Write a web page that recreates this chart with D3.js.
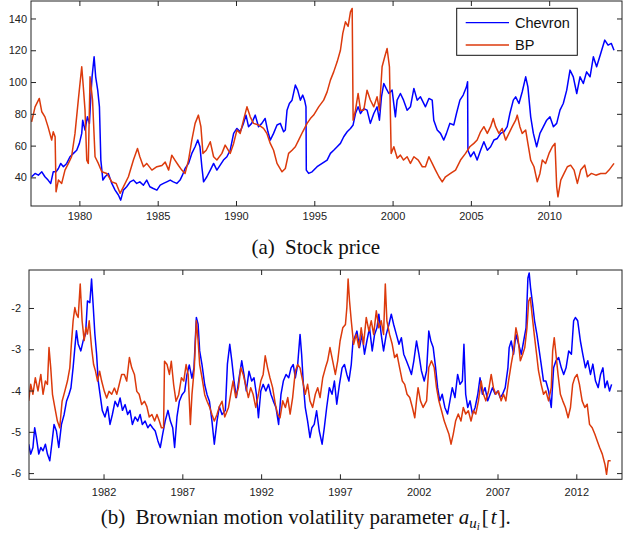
<!DOCTYPE html>
<html><head><meta charset="utf-8">
<script src="https://cdn.jsdelivr.net/npm/d3@7"></script>
<style>body{margin:0;background:#fff}svg{display:block}</style>
</head><body>
<script>
// ---------- data (year, value) ----------
const chevronPrice = [[1976.95,40.4],[1977.17,42.5],[1977.38,41.4],[1977.6,43.5],[1977.8,40.4],[1978.0,38.3],[1978.17,36.2],[1978.33,43.5],[1978.51,43.5],[1978.66,45.6],[1978.81,48.8],[1978.98,46.7],[1979.19,48.8],[1979.4,53],[1979.62,55.1],[1979.83,57.1],[1980.0,61.4],[1980.15,67.7],[1980.21,76],[1980.36,69.8],[1980.51,78.1],[1980.64,74],[1980.73,90.7],[1980.81,103.3],[1980.94,115.9],[1981.04,103.3],[1981.17,94.9],[1981.28,84.4],[1981.37,50.9],[1981.5,38.3],[1981.64,40.4],[1981.85,42.5],[1982.07,36.2],[1982.28,32],[1982.49,28.9],[1982.64,25.7],[1982.81,32],[1983.02,34.1],[1983.24,37.2],[1983.45,38.3],[1983.66,36.2],[1983.86,37.2],[1984.09,35.1],[1984.3,38.3],[1984.5,34.1],[1984.72,33],[1984.95,32],[1985.16,35.1],[1985.37,36.2],[1985.58,37.2],[1985.8,38.3],[1986.0,37.2],[1986.22,36.2],[1986.43,38.3],[1986.58,41.4],[1986.75,45.6],[1986.97,48.8],[1987.18,55.1],[1987.39,59.3],[1987.56,63.5],[1987.7,59.3],[1987.82,46.7],[1987.93,37.2],[1988.14,40.4],[1988.36,44.6],[1988.57,48.8],[1988.78,44.6],[1988.99,47.7],[1989.2,50.9],[1989.42,53],[1989.63,57.1],[1989.85,67.7],[1990.06,70.8],[1990.27,68.7],[1990.48,74],[1990.64,79.2],[1990.8,71.9],[1991.0,74],[1991.23,79.2],[1991.44,71.9],[1991.65,74],[1991.86,77.1],[1992.04,68.7],[1992.19,63.5],[1992.4,67.7],[1992.62,73],[1992.83,74],[1993.04,68.7],[1993.15,69.8],[1993.26,82.3],[1993.41,86.5],[1993.58,88.6],[1993.79,98.1],[1993.94,94.9],[1994.11,88.6],[1994.26,91.8],[1994.38,88.6],[1994.47,84.4],[1994.49,44.6],[1994.64,42.5],[1994.86,43.5],[1995.18,46.7],[1995.5,48.8],[1995.82,50.9],[1996.03,55.1],[1996.24,57.1],[1996.46,59.3],[1996.67,61.4],[1996.88,65.6],[1997.1,68.7],[1997.31,70.8],[1997.48,73],[1997.63,80.2],[1997.8,84.4],[1997.95,80.2],[1998.16,83.3],[1998.37,82.3],[1998.58,74],[1998.8,80.2],[1999.01,84.4],[1999.16,76],[1999.29,90.7],[1999.44,99.1],[1999.59,96],[1999.76,92.8],[1999.97,94.9],[2000.18,78.1],[2000.29,88.6],[2000.5,92.8],[2000.7,88.6],[2000.93,82.3],[2001.14,84.4],[2001.36,96],[2001.57,88.6],[2001.78,90.7],[2002.1,84.4],[2002.32,89.7],[2002.53,88.6],[2002.63,76],[2002.85,69.8],[2003.06,67.7],[2003.27,63.5],[2003.44,67.7],[2003.66,74],[2003.91,73],[2004.08,80.2],[2004.3,88.6],[2004.51,91.8],[2004.72,97],[2004.79,100.2],[2004.81,57.1],[2004.98,53],[2005.19,56.1],[2005.4,50.9],[2005.62,57.1],[2005.83,62.4],[2006.05,57.1],[2006.26,59.3],[2006.47,63.5],[2006.69,64.5],[2006.9,67.7],[2007.11,68.7],[2007.32,71.9],[2007.49,80.2],[2007.71,88.6],[2007.86,90.7],[2008.07,86.5],[2008.28,93.9],[2008.5,103.3],[2008.64,97],[2008.82,78.1],[2008.99,67.7],[2009.2,59.3],[2009.41,67.7],[2009.63,71.9],[2009.84,76],[2010.05,78.1],[2010.27,71.9],[2010.48,74],[2010.69,82.3],[2010.9,86.5],[2011.12,94.9],[2011.33,107.5],[2011.54,103.3],[2011.76,92.8],[2011.97,103.3],[2012.18,99.1],[2012.39,106.4],[2012.61,103.3],[2012.82,115.9],[2013.03,109.6],[2013.29,118],[2013.55,126.4],[2013.76,123.2],[2013.97,124.3],[2014.14,120]];

const bpPrice = [[1976.95,75],[1977.17,84.4],[1977.44,89.7],[1977.6,81.3],[1977.8,78.1],[1978.0,71.8],[1978.23,63.5],[1978.33,68.7],[1978.45,65.5],[1978.51,30.9],[1978.66,38.3],[1978.87,36.2],[1979.08,44.6],[1979.3,48.8],[1979.5,53],[1979.72,67.7],[1979.93,88.6],[1980.15,109.6],[1980.25,97],[1980.36,82.3],[1980.47,50.9],[1980.57,48.8],[1980.68,103.3],[1980.84,88.7],[1981.0,53],[1981.21,48.8],[1981.43,43.5],[1981.75,42.5],[1982.07,37.2],[1982.35,36.2],[1982.6,30],[1982.81,34],[1983.13,40.4],[1983.45,50.9],[1983.71,58.2],[1983.86,53],[1984.09,46.7],[1984.3,48.8],[1984.63,44.6],[1984.95,46.7],[1985.27,47.5],[1985.48,49.6],[1985.7,44.6],[1985.9,54],[1986.1,50.9],[1986.33,47.5],[1986.54,44.6],[1986.75,42.5],[1986.97,50.9],[1987.18,63.5],[1987.39,74],[1987.6,79.2],[1987.76,71.9],[1987.89,55.1],[1988.1,57.1],[1988.36,62.4],[1988.57,53],[1988.78,50.9],[1989.1,55.1],[1989.31,60.3],[1989.63,55.1],[1989.85,61.4],[1990.06,69.8],[1990.27,67.7],[1990.48,76],[1990.7,84.4],[1990.91,78.1],[1991.12,74],[1991.44,73],[1991.76,70.8],[1991.97,67.7],[1992.19,61.4],[1992.4,57.1],[1992.62,48.8],[1992.94,43.5],[1993.15,45.6],[1993.36,55.1],[1993.58,57.1],[1993.79,59.3],[1994.0,63.5],[1994.26,68.7],[1994.54,74],[1994.75,77],[1994.96,79.2],[1995.28,84.4],[1995.6,88.6],[1995.82,93.8],[1996.03,101.2],[1996.24,106.4],[1996.46,112.7],[1996.67,120],[1996.82,130.6],[1996.99,137.9],[1997.16,135],[1997.31,144.2],[1997.42,146.3],[1997.48,76],[1997.63,82.3],[1997.8,92.8],[1997.95,82.3],[1998.16,82.3],[1998.37,94.9],[1998.58,88.7],[1998.8,84.4],[1999.01,90.7],[1999.16,82.3],[1999.33,109.6],[1999.5,115.9],[1999.65,121.1],[1999.8,109.6],[1999.91,55.1],[2000.08,59.3],[2000.3,52],[2000.5,54],[2000.7,50.9],[2000.93,53],[2001.14,48.8],[2001.36,53],[2001.64,50.9],[2001.9,46.7],[2002.1,46.7],[2002.32,53],[2002.53,48.8],[2002.74,44.6],[2002.96,40.4],[2003.17,37.2],[2003.38,40.4],[2003.7,42.5],[2004.02,44.6],[2004.34,50.9],[2004.66,55.1],[2004.93,59.3],[2005.19,61.4],[2005.4,63.5],[2005.62,68.7],[2005.83,71.9],[2006.05,67.7],[2006.26,71.9],[2006.43,77.1],[2006.58,71.9],[2006.79,67.7],[2007.0,70.8],[2007.22,63.5],[2007.43,67.7],[2007.64,71.9],[2007.86,76],[2007.96,79.2],[2008.13,71.9],[2008.28,67.7],[2008.5,69.8],[2008.64,61.4],[2008.82,50.9],[2009.03,46.7],[2009.24,37.2],[2009.41,42.5],[2009.56,50.9],[2009.77,48.8],[2009.99,55.1],[2010.2,59.3],[2010.37,61.4],[2010.48,34.1],[2010.56,27.8],[2010.74,38.3],[2010.95,42.5],[2011.16,46.7],[2011.37,47.7],[2011.59,44.6],[2011.8,36.2],[2012.01,44.6],[2012.27,47.7],[2012.44,40.4],[2012.7,42.5],[2012.98,41.4],[2013.29,42.5],[2013.61,42.5],[2013.82,44.6],[2014.14,48.8]];

const chevronVol = [[1977.25,-5.30],[1977.38,-5.54],[1977.52,-5.38],[1977.63,-4.90],[1977.74,-5.14],[1977.89,-5.54],[1978.02,-5.38],[1978.16,-5.46],[1978.31,-5.30],[1978.44,-5.54],[1978.59,-5.70],[1978.74,-5.22],[1978.86,-4.82],[1979.01,-4.98],[1979.16,-5.38],[1979.33,-4.82],[1979.5,-4.58],[1979.65,-4.26],[1979.8,-4.10],[1979.93,-3.94],[1980.07,-3.44],[1980.18,-2.96],[1980.28,-2.55],[1980.39,-2.87],[1980.56,-3.04],[1980.71,-2.79],[1980.86,-2.63],[1980.98,-1.83],[1981.13,-1.87],[1981.24,-1.30],[1981.35,-1.99],[1981.45,-2.63],[1981.56,-3.12],[1981.66,-3.76],[1981.77,-4.07],[1981.92,-4.48],[1982.09,-4.64],[1982.26,-4.39],[1982.41,-4.82],[1982.56,-4.58],[1982.73,-4.26],[1982.9,-4.39],[1983.05,-4.18],[1983.2,-4.48],[1983.37,-4.34],[1983.53,-4.58],[1983.68,-4.48],[1983.83,-4.82],[1984.0,-4.64],[1984.17,-4.74],[1984.32,-4.58],[1984.46,-4.82],[1984.64,-4.74],[1984.81,-4.90],[1984.96,-4.82],[1985.11,-4.90],[1985.28,-4.98],[1985.45,-5.22],[1985.6,-5.38],[1985.75,-5.06],[1985.91,-4.74],[1986.09,-4.48],[1986.24,-4.74],[1986.39,-4.90],[1986.51,-5.38],[1986.66,-4.64],[1986.81,-4.26],[1986.98,-4.10],[1987.15,-4.02],[1987.29,-3.62],[1987.44,-3.38],[1987.61,-3.70],[1987.74,-3.45],[1987.89,-2.23],[1988.0,-2.39],[1988.1,-3.04],[1988.25,-3.38],[1988.42,-3.86],[1988.57,-4.10],[1988.72,-4.26],[1988.88,-4.74],[1989.03,-5.30],[1989.2,-4.74],[1989.35,-4.39],[1989.52,-4.58],[1989.73,-4.48],[1989.86,-3.36],[1990.01,-2.88],[1990.14,-3.28],[1990.28,-3.77],[1990.43,-4.17],[1990.6,-3.69],[1990.77,-3.28],[1990.91,-3.61],[1991.06,-4.01],[1991.23,-3.53],[1991.4,-3.77],[1991.55,-3.69],[1991.7,-4.09],[1991.83,-4.66],[1991.98,-4.01],[1992.13,-3.85],[1992.3,-4.01],[1992.47,-3.85],[1992.62,-4.09],[1992.77,-4.25],[1992.94,-4.41],[1993.11,-4.82],[1993.26,-4.09],[1993.41,-3.77],[1993.58,-3.61],[1993.75,-3.69],[1993.9,-3.45],[1994.04,-3.37],[1994.17,-3.69],[1994.32,-3.37],[1994.47,-2.64],[1994.57,-3.12],[1994.68,-3.85],[1994.8,-4.41],[1994.95,-4.74],[1995.1,-5.14],[1995.22,-4.90],[1995.37,-4.82],[1995.52,-4.49],[1995.69,-4.98],[1995.87,-5.30],[1996.01,-4.90],[1996.16,-4.41],[1996.33,-3.93],[1996.5,-4.09],[1996.65,-3.77],[1996.8,-4.33],[1996.97,-3.85],[1997.14,-3.45],[1997.29,-3.37],[1997.44,-3.61],[1997.57,-3.77],[1997.72,-3.37],[1997.83,-2.80],[1997.93,-2.72],[1998.08,-2.56],[1998.24,-2.96],[1998.41,-2.64],[1998.56,-3.12],[1998.71,-2.80],[1998.88,-2.48],[1999.05,-3.04],[1999.2,-2.64],[1999.35,-2.48],[1999.47,-2.15],[1999.62,-2.64],[1999.77,-3.04],[1999.94,-2.64],[2000.11,-2.40],[2000.26,-2.15],[2000.41,-2.40],[2000.58,-2.64],[2000.75,-2.88],[2000.9,-2.72],[2001.05,-3.12],[2001.22,-3.28],[2001.39,-3.45],[2001.54,-3.61],[2001.69,-3.28],[2001.86,-2.80],[2002.01,-3.12],[2002.17,-3.52],[2002.35,-3.77],[2002.5,-3.52],[2002.64,-2.56],[2002.77,-2.80],[2002.92,-2.96],[2003.07,-3.44],[2003.2,-3.93],[2003.34,-4.25],[2003.49,-4.09],[2003.66,-4.41],[2003.83,-4.57],[2003.98,-4.25],[2004.13,-3.93],[2004.3,-4.17],[2004.47,-3.61],[2004.62,-3.85],[2004.77,-3.77],[2004.87,-2.88],[2004.98,-4.09],[2005.11,-4.41],[2005.26,-4.25],[2005.41,-4.57],[2005.58,-4.41],[2005.75,-4.09],[2005.89,-3.69],[2006.04,-4.09],[2006.21,-3.93],[2006.38,-4.25],[2006.53,-4.09],[2006.68,-3.93],[2006.85,-4.09],[2007.02,-4.01],[2007.17,-4.17],[2007.32,-4.09],[2007.49,-3.93],[2007.66,-3.45],[2007.74,-2.96],[2007.87,-2.80],[2008.02,-3.12],[2008.17,-2.64],[2008.34,-2.88],[2008.51,-3.12],[2008.66,-2.80],[2008.81,-2.48],[2008.93,-1.27],[2009.01,-1.15],[2009.1,-1.52],[2009.23,-1.91],[2009.35,-2.31],[2009.5,-2.64],[2009.65,-3.04],[2009.77,-3.36],[2009.92,-3.77],[2010.07,-3.77],[2010.24,-4.01],[2010.41,-4.41],[2010.56,-3.45],[2010.71,-3.28],[2010.88,-3.20],[2011.05,-3.45],[2011.2,-3.61],[2011.35,-3.45],[2011.52,-3.04],[2011.69,-3.12],[2011.83,-2.31],[2011.94,-2.23],[2012.09,-2.31],[2012.26,-2.80],[2012.41,-3.12],[2012.58,-3.45],[2012.73,-3.28],[2012.9,-3.61],[2013.05,-3.36],[2013.22,-3.77],[2013.39,-3.93],[2013.54,-3.61],[2013.69,-3.45],[2013.82,-3.93],[2013.96,-3.77],[2014.11,-4.01],[2014.24,-3.85]];

const bpVol = [[1977.25,-4.25],[1977.38,-3.85],[1977.52,-4.09],[1977.67,-3.69],[1977.84,-4.01],[1978.02,-3.61],[1978.16,-4.09],[1978.31,-3.77],[1978.44,-3.85],[1978.54,-2.96],[1978.65,-3.45],[1978.76,-4.09],[1978.9,-4.39],[1979.07,-4.74],[1979.22,-4.90],[1979.37,-4.26],[1979.54,-4.02],[1979.71,-3.77],[1979.86,-3.45],[1979.96,-2.87],[1980.07,-2.31],[1980.18,-1.99],[1980.28,-2.15],[1980.39,-2.23],[1980.52,-1.42],[1980.64,-2.31],[1980.77,-2.79],[1980.88,-2.47],[1980.98,-2.63],[1981.09,-2.31],[1981.24,-2.96],[1981.37,-3.37],[1981.49,-3.53],[1981.62,-3.77],[1981.75,-3.53],[1981.88,-3.77],[1982.05,-4.02],[1982.2,-4.18],[1982.35,-4.02],[1982.52,-4.09],[1982.69,-3.94],[1982.84,-4.09],[1982.99,-3.86],[1983.15,-3.61],[1983.32,-3.61],[1983.47,-3.77],[1983.64,-3.20],[1983.79,-3.45],[1983.96,-3.61],[1984.11,-4.02],[1984.26,-4.09],[1984.42,-4.34],[1984.6,-4.26],[1984.75,-4.39],[1984.9,-4.64],[1985.07,-4.58],[1985.24,-4.74],[1985.39,-4.58],[1985.54,-4.74],[1985.67,-4.90],[1985.81,-4.90],[1985.87,-3.29],[1986.03,-3.37],[1986.18,-3.61],[1986.3,-3.29],[1986.45,-3.86],[1986.6,-4.26],[1986.77,-4.10],[1986.94,-3.69],[1987.09,-3.77],[1987.24,-3.37],[1987.37,-3.61],[1987.51,-4.82],[1987.61,-4.10],[1987.76,-3.45],[1987.89,-2.31],[1988.0,-2.79],[1988.1,-3.37],[1988.25,-3.69],[1988.42,-4.10],[1988.57,-4.26],[1988.72,-4.39],[1988.88,-4.58],[1989.03,-4.74],[1989.2,-4.58],[1989.35,-4.39],[1989.52,-4.26],[1989.69,-4.64],[1989.93,-4.41],[1990.07,-4.09],[1990.22,-3.77],[1990.39,-4.17],[1990.56,-3.93],[1990.71,-3.45],[1990.86,-3.61],[1991.01,-3.85],[1991.19,-4.17],[1991.34,-3.93],[1991.49,-4.09],[1991.66,-4.41],[1991.83,-4.09],[1991.98,-3.77],[1992.13,-3.61],[1992.26,-3.16],[1992.41,-3.45],[1992.56,-3.69],[1992.73,-3.93],[1992.9,-4.33],[1993.05,-4.57],[1993.2,-4.66],[1993.37,-4.25],[1993.54,-4.41],[1993.69,-4.17],[1993.84,-4.57],[1994.0,-4.17],[1994.17,-3.53],[1994.32,-3.37],[1994.47,-3.45],[1994.64,-3.77],[1994.8,-4.09],[1994.95,-3.85],[1995.1,-4.25],[1995.27,-4.41],[1995.44,-4.09],[1995.59,-3.93],[1995.74,-4.17],[1995.91,-3.69],[1996.08,-3.45],[1996.22,-3.28],[1996.37,-2.96],[1996.54,-3.28],[1996.71,-3.61],[1996.86,-3.28],[1997.01,-2.80],[1997.18,-2.48],[1997.35,-2.40],[1997.44,-1.99],[1997.52,-1.30],[1997.61,-1.83],[1997.72,-2.31],[1997.87,-2.88],[1998.04,-2.64],[1998.2,-2.96],[1998.35,-2.48],[1998.5,-2.88],[1998.67,-2.23],[1998.84,-2.56],[1998.99,-2.31],[1999.14,-2.64],[1999.31,-2.07],[1999.47,-2.48],[1999.62,-2.31],[1999.77,-2.64],[1999.88,-1.42],[1999.98,-2.31],[2000.15,-2.64],[2000.32,-2.88],[2000.47,-3.20],[2000.62,-3.12],[2000.79,-3.45],[2000.96,-3.77],[2001.11,-3.85],[2001.26,-4.09],[2001.43,-4.17],[2001.6,-4.41],[2001.75,-4.66],[2001.86,-4.25],[2001.96,-3.93],[2002.11,-4.25],[2002.28,-4.41],[2002.5,-4.25],[2002.64,-3.44],[2002.81,-3.28],[2002.98,-3.44],[2003.13,-3.93],[2003.28,-4.25],[2003.45,-4.49],[2003.62,-4.74],[2003.77,-4.90],[2003.92,-5.06],[2004.05,-5.30],[2004.19,-5.06],[2004.34,-4.74],[2004.51,-4.57],[2004.68,-4.74],[2004.83,-4.41],[2004.98,-4.57],[2005.15,-4.49],[2005.32,-4.74],[2005.47,-4.49],[2005.62,-4.57],[2005.79,-4.25],[2005.96,-3.77],[2006.11,-4.09],[2006.26,-4.25],[2006.43,-4.01],[2006.6,-3.61],[2006.74,-3.93],[2006.89,-4.09],[2007.06,-4.01],[2007.23,-4.25],[2007.38,-4.09],[2007.53,-4.25],[2007.7,-3.77],[2007.87,-3.36],[2008.02,-3.04],[2008.17,-2.48],[2008.3,-2.72],[2008.45,-3.28],[2008.6,-3.12],[2008.73,-2.96],[2008.87,-2.48],[2008.98,-1.83],[2009.08,-1.75],[2009.19,-2.15],[2009.33,-2.64],[2009.48,-3.12],[2009.6,-3.52],[2009.77,-3.85],[2009.92,-4.09],[2010.07,-4.01],[2010.24,-4.25],[2010.41,-3.93],[2010.5,-3.04],[2010.6,-2.72],[2010.71,-3.12],[2010.84,-3.61],[2010.99,-4.09],[2011.14,-4.25],[2011.31,-4.41],[2011.48,-4.66],[2011.63,-4.41],[2011.77,-3.85],[2011.9,-3.69],[2012.05,-3.61],[2012.2,-3.85],[2012.37,-4.25],[2012.54,-4.41],[2012.69,-4.33],[2012.84,-4.82],[2013.01,-4.90],[2013.18,-5.06],[2013.33,-5.22],[2013.48,-5.38],[2013.65,-5.54],[2013.82,-5.79],[2013.92,-6.03],[2014.03,-5.70],[2014.18,-5.70]];

const seriesNames = ["Chevron", "BP"];
const priceXTicks = [1980, 1985, 1990, 1995, 2000, 2005, 2010];
const priceYTicks = [40, 60, 80, 100, 120, 140];
const volXTicks = [1982, 1987, 1992, 1997, 2002, 2007, 2012];
const volYTicks = [-6, -5, -4, -3, -2];

// ---------- drawing ----------
const W = 627, H = 535;
const BLUE = "#0000ff", RED = "#dc3a0c";
const svg = d3.select("body").append("svg").attr("width", W).attr("height", H)
  .style("font-family", "'Liberation Sans', Arial, sans-serif");

function panel(id, xDomain, xRange, yDomain, yRange, xTicks, yTicks, data, xPad, yPad) {
  const x = d3.scaleLinear().domain(xDomain).range(xRange);
  const y = d3.scaleLinear().domain(yDomain).range(yRange);
  const g = svg.append("g");
  const [x0, x1] = xRange, [y0, y1] = [yRange[1], yRange[0]];

  svg.append("clipPath").attr("id", id).append("rect")
    .attr("x", x0).attr("y", y0).attr("width", x1 - x0).attr("height", y1 - y0);

  const line = d3.line().x(d => x(d[0])).y(d => y(d[1]));
  const lines = g.append("g").attr("clip-path", `url(#${id})`);
  data.forEach((s, i) => {
    lines.append("path").datum(s.slice().sort((a, b) => a[0] - b[0]))
      .attr("fill", "none").attr("stroke", i === 0 ? BLUE : RED)
      .attr("stroke-width", 1.5).attr("stroke-linejoin", "round")
      .attr("d", line);
  });

  const fmt = d => String(d);
  const styleAxis = sel => {
    sel.select(".domain").remove();
    sel.selectAll(".tick line").attr("stroke", "#222");
    sel.selectAll(".tick text").attr("fill", "#222").style("font-size", "11px")
      .style("font-family", "'Liberation Sans', Arial, sans-serif");
  };
  g.append("g").attr("transform", `translate(0,${y1})`)
    .call(d3.axisBottom(x).tickValues(xTicks).tickSize(-5).tickPadding(xPad).tickFormat(fmt)).call(styleAxis);
  g.append("g").attr("transform", `translate(0,${y0})`)
    .call(d3.axisTop(x).tickValues(xTicks).tickSize(-5).tickFormat("")).call(styleAxis);
  g.append("g").attr("transform", `translate(${x0},0)`)
    .call(d3.axisLeft(y).tickValues(yTicks).tickSize(-5).tickPadding(yPad).tickFormat(fmt)).call(styleAxis);
  g.append("g").attr("transform", `translate(${x1},0)`)
    .call(d3.axisRight(y).tickValues(yTicks).tickSize(-5).tickFormat("")).call(styleAxis);

  g.append("rect").attr("x", x0).attr("y", y0).attr("width", x1 - x0).attr("height", y1 - y0)
    .attr("fill", "none").attr("stroke", "#222").attr("stroke-width", 1);
  return { x, y, g };
}

panel("clipA", [1976.91, 2014.65], [31, 622], [22, 151], [206, 1],
  priceXTicks, priceYTicks, [chevronPrice, bpPrice], 6, 4);
panel("clipB", [1977.27, 2014.9], [29, 622], [-6.15, -1.08], [479.3, 270],
  volXTicks, volYTicks, [chevronVol, bpVol], 9, 8);

// legend
const lg = svg.append("g");
lg.append("rect").attr("x", 456.7).attr("y", 8.3).attr("width", 120.6).attr("height", 47)
  .attr("fill", "#fff").attr("stroke", "#111").attr("stroke-width", 1);
seriesNames.forEach((name, i) => {
  const yy = 22.7 + i * 22.3;
  lg.append("line").attr("x1", 465.7).attr("x2", 509).attr("y1", yy).attr("y2", yy)
    .attr("stroke", i === 0 ? BLUE : RED).attr("stroke-width", 1.3);
  lg.append("text").attr("x", 515).attr("y", yy + 5.2).text(name)
    .style("font-size", "14.5px").attr("fill", "#111");
});

// captions
const serif = "'Liberation Serif', 'Times New Roman', serif";
const ca = svg.append("text").attr("x", 315.8).attr("y", 254).attr("text-anchor", "middle")
  .style("font-family", serif).style("font-size", "21px").attr("fill", "#111");
ca.append("tspan").text("(a)");
ca.append("tspan").attr("dx", 5).text(" Stock price");

const cb = svg.append("text").attr("x", 305.8).attr("y", 523.5).attr("text-anchor", "middle")
  .style("font-family", serif).style("font-size", "21px").attr("fill", "#111");
cb.append("tspan").text("(b)");
cb.append("tspan").attr("dx", 5).text(" Brownian motion volatility parameter ");
cb.append("tspan").style("font-style", "italic").text("a");
cb.append("tspan").style("font-style", "italic").style("font-size", "15px").attr("dy", 4).text("u");
cb.append("tspan").style("font-style", "italic").style("font-size", "11px").attr("dy", 2).text("i");
cb.append("tspan").attr("dy", -6).attr("dx", 2).text("[");
cb.append("tspan").style("font-style", "italic").attr("dx", 2).text("t");
cb.append("tspan").attr("dx", 2).text("].");
</script>
</body></html>
